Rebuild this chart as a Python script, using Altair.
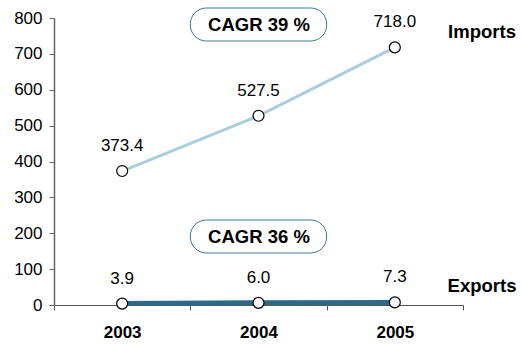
import altair as alt
import pandas as pd

years = [2003, 2004, 2005]
imports = [373.4, 527.5, 718.0]
exports = [3.9, 6.0, 7.3]
cagr_labels = ["CAGR 39 %", "CAGR 36 %"]
series_names = ["Imports", "Exports"]

FONT = "Liberation Sans"

df_imp = pd.DataFrame({"year": years, "value": imports})
df_exp = pd.DataFrame({"year": years, "value": exports})
df_all = pd.concat([df_imp.assign(s="Imports"), df_exp.assign(s="Exports")])

xscale = alt.Scale(domain=[2002.5, 2005.5], nice=False, zero=False)
yscale = alt.Scale(domain=[0, 800], nice=False)

x_axis = alt.Axis(
    values=[2002.5, 2003, 2003.5, 2004, 2004.5, 2005, 2005.5],
    labelExpr="datum.value % 1 === 0 ? format(datum.value, 'd') : ''",
    tickOpacity={"condition": {"test": "datum.value % 1 !== 0", "value": 1}, "value": 0},
    tickSize=5, labelPadding=14, labelFontWeight="bold", labelFontSize=17,
    title=None, grid=False, domainColor="#555555", tickColor="#555555",
    labelColor="black", labelFont=FONT, labelOverlap=False,
)
y_axis = alt.Axis(
    values=[0, 100, 200, 300, 400, 500, 600, 700, 800], tickSize=5, labelPadding=7,
    labelFontSize=17, title=None, grid=False, domainColor="#666666",
    tickColor="#666666", labelColor="black", labelFont=FONT, domainWidth=1.5,
    labelOverlap=False,
)

X = alt.X("year:Q", scale=xscale, axis=x_axis)
Y = alt.Y("value:Q", scale=yscale, axis=y_axis)

line_imp = alt.Chart(df_imp).mark_line(color="#a9cfdc", strokeWidth=3).encode(x=X, y=Y)
line_exp = alt.Chart(df_exp).mark_line(color="#2c6a87", strokeWidth=5).encode(x=X, y=Y)

pts = alt.Chart(df_all).mark_point(
    shape="circle", filled=True, fill="white", stroke="black", strokeWidth=1.2,
    size=120, opacity=1
).encode(x=X, y=Y)

labels = alt.Chart(df_all).mark_text(
    font=FONT, fontSize=17, dy=-25, color="black"
).encode(x=X, y=Y, text=alt.Text("value:Q", format=".1f"))

# plot-area origin is at (54, 18) on the page
OX, OY = 54, 18

df_box = pd.DataFrame({"label": cagr_labels, "year": [2003.5, 2003.5], "x2": [2004.5, 2004.5]})
box_style = dict(fill="white", stroke="#3a7898", strokeWidth=1, cornerRadius=16)
box1 = alt.Chart(df_box.iloc[[0]]).mark_rect(**box_style).encode(
    x=X, x2="x2:Q", y=alt.value(8 - OY), y2=alt.value(41 - OY))
box2 = alt.Chart(df_box.iloc[[1]]).mark_rect(**box_style).encode(
    x=X, x2="x2:Q", y=alt.value(220 - OY), y2=alt.value(253 - OY))
txt_style = dict(font=FONT, fontSize=18.5, fontWeight="bold", color="black")
boxt1 = alt.Chart(df_box.iloc[[0]]).mark_text(**txt_style).encode(
    x=alt.value(259 - OX), y=alt.value(25 - OY), text="label:N")
boxt2 = alt.Chart(df_box.iloc[[1]]).mark_text(**txt_style).encode(
    x=alt.value(259 - OX), y=alt.value(237 - OY), text="label:N")

df_names = pd.DataFrame({"name": series_names})
name1 = alt.Chart(df_names.iloc[[0]]).mark_text(**txt_style).encode(
    x=alt.value(482 - OX), y=alt.value(32 - OY), text="name:N")
name2 = alt.Chart(df_names.iloc[[1]]).mark_text(**txt_style).encode(
    x=alt.value(482 - OX), y=alt.value(286 - OY), text="name:N")

chart = alt.layer(
    line_imp, line_exp, box1, box2, boxt1, boxt2, pts, labels, name1, name2
).properties(
    width=409, height=287,
    autosize=alt.AutoSizeParams(type="none"),
    padding={"left": OX, "top": OY, "right": 58, "bottom": 39},
    background="white",
).configure_view(stroke=None)

chart.save("out.html", embed_options={"renderer": "svg", "actions": False})
